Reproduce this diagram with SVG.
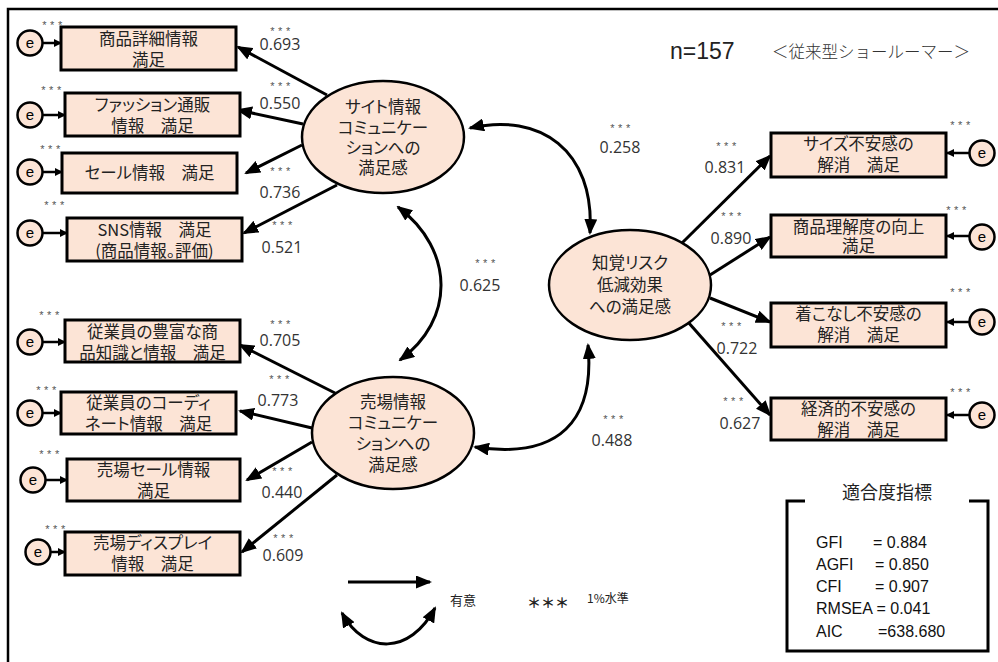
<svg xmlns="http://www.w3.org/2000/svg" width="998" height="662" viewBox="0 0 998 662">
<defs>
<marker id="ah" markerUnits="userSpaceOnUse" viewBox="0 0 16 13" refX="14" refY="6.5" markerWidth="16" markerHeight="13" orient="auto-start-reverse"><path d="M0,0 L16,6.5 L0,13 z" fill="#000"/></marker>
<marker id="sh" markerUnits="userSpaceOnUse" viewBox="0 0 8 8" refX="7" refY="4" markerWidth="8" markerHeight="8" orient="auto"><path d="M0,0 L8,4 L0,8 z" fill="#000"/></marker>
</defs>
<style>
.box{fill:#FCE4D6;stroke:#000;stroke-width:3}
.ell{fill:#FCE4D6;stroke:#000;stroke-width:2.5}
.ec{fill:#FCE4D6;stroke:#000;stroke-width:2.5}
.arr{fill:none;stroke:#000;stroke-width:3;marker-end:url(#ah)}
.dbl{fill:none;stroke:#000;stroke-width:3;marker-start:url(#ah);marker-end:url(#ah)}
.sarr{fill:none;stroke:#000;stroke-width:2.5;marker-end:url(#sh)}
.jp{font-family:"Noto Sans CJK JP","Liberation Sans",sans-serif;font-size:16.5px;fill:#222;text-anchor:middle;font-feature-settings:"palt"}
.ej{font-family:"Noto Sans CJK JP","Liberation Sans",sans-serif;font-size:16.5px;fill:#222;text-anchor:middle;font-feature-settings:"palt"}
.et{font-family:"Liberation Sans",sans-serif;font-size:15px;fill:#000;text-anchor:middle}
.st{font-family:"Liberation Sans",sans-serif;font-size:11px;fill:#555;text-anchor:middle;letter-spacing:3.5px}
.num{font-family:"Open Sans","Liberation Sans",sans-serif;font-size:16px;fill:#333;text-anchor:middle}
.fit{font-family:"Liberation Sans",sans-serif;font-size:16px;fill:#111}
</style>

<path d="M8,662 L8,9 L998,9" fill="none" stroke="#000" stroke-width="2.5"/>

<text x="670" y="59" font-family="Liberation Sans, sans-serif" font-size="23" fill="#222">n=157</text>
<text x="772" y="58" font-family="Noto Sans CJK JP, sans-serif" font-size="16.5" fill="#333" font-weight="300">＜従来型ショールーマー＞</text>

<g id="connectors">
<path class="arr" d="M327,95 L238,47"/>
<path class="arr" d="M303,124 L238,110"/>
<path class="arr" d="M302,145 L246,173"/>
<path class="arr" d="M337,185 L244,233"/>
<path class="arr" d="M335,393 L240,345"/>
<path class="arr" d="M312,428 L240,411"/>
<path class="arr" d="M312,442 L247,480"/>
<path class="arr" d="M337,475 L242,552"/>
<path class="arr" d="M682,243 L770,156"/>
<path class="arr" d="M710,275 L770,237"/>
<path class="arr" d="M710,298 L770,322"/>
<path class="arr" d="M688,322 L770,415"/>
<path class="dbl" d="M470,128 C540,112 595,150 590,233"/>
<path class="dbl" d="M398,207 C455,250 455,320 400,360"/>
<path class="dbl" d="M475,447 C560,460 595,420 588,345"/>
<path class="sarr" d="M43,43 L61,43"/>
<path class="sarr" d="M43,115 L65,115"/>
<path class="sarr" d="M43,172 L62,172"/>
<path class="sarr" d="M43,233 L67,233"/>
<path class="sarr" d="M43,342 L65,342"/>
<path class="sarr" d="M43,413 L61,413"/>
<path class="sarr" d="M46,480 L67,480"/>
<path class="sarr" d="M51,552 L65,552"/>
<path class="sarr" d="M969,153 L947,153"/>
<path class="sarr" d="M969,236 L947,236"/>
<path class="sarr" d="M969,322 L947,322"/>
<path class="sarr" d="M969,415 L947,415"/>
</g>

<g id="n-site">
<ellipse class="ell" cx="383" cy="137" rx="81" ry="56"/>
<text class="ej" x="383" y="113">サイト情報</text>
<text class="ej" x="383" y="134">コミュニケー</text>
<text class="ej" x="383" y="154">ションへの</text>
<text class="ej" x="383" y="174">満足感</text>
</g>
<g id="n-store">
<ellipse class="ell" cx="393" cy="433" rx="81" ry="56"/>
<text class="ej" x="393" y="408">売場情報</text>
<text class="ej" x="393" y="429">コミュニケー</text>
<text class="ej" x="393" y="450">ションへの</text>
<text class="ej" x="393" y="471">満足感</text>
</g>
<g id="n-risk">
<ellipse class="ell" cx="630" cy="285" rx="81" ry="55"/>
<text class="ej" x="630" y="269">知覚リスク</text>
<text class="ej" x="630" y="291">低減効果</text>
<text class="ej" x="630" y="313">への満足感</text>
</g>

<g id="b1"><rect class="box" x="61" y="27" width="175" height="43"/><text class="jp" x="148.5" y="44.5">商品詳細情報</text><text class="jp" x="148.5" y="65.5">満足</text></g>
<g id="b2"><rect class="box" x="65" y="93" width="175" height="43"/><text class="jp" x="152.5" y="110.5">ファッション通販</text><text class="jp" x="152.5" y="131.5">情報　満足</text></g>
<g id="b3"><rect class="box" x="62" y="153" width="175" height="40"/><text class="jp" x="149.5" y="179">セール情報　満足</text></g>
<g id="b4"><rect class="box" x="67" y="218" width="175" height="43"/><text class="jp" x="154.5" y="235.5">SNS情報　満足</text><text class="jp" x="154.5" y="256.5">(商品情報。評価)</text></g>
<g id="b5"><rect class="box" x="65" y="320" width="175" height="42"/><text class="jp" x="152.5" y="338">従業員の豊富な商</text><text class="jp" x="152.5" y="359">品知識と情報　満足</text></g>
<g id="b6"><rect class="box" x="61" y="392" width="175" height="42"/><text class="jp" x="148.5" y="409">従業員のコーディ</text><text class="jp" x="148.5" y="430">ネート情報　満足</text></g>
<g id="b7"><rect class="box" x="67" y="459" width="173" height="42"/><text class="jp" x="153.5" y="476">売場セール情報</text><text class="jp" x="153.5" y="497">満足</text></g>
<g id="b8"><rect class="box" x="65" y="532" width="175" height="43"/><text class="jp" x="152.5" y="549">売場ディスプレイ</text><text class="jp" x="152.5" y="570">情報　満足</text></g>

<g id="r1"><rect class="box" x="771" y="133" width="175" height="44"/><text class="jp" x="858.5" y="150">サイズ不安感の</text><text class="jp" x="858.5" y="171">解消　満足</text></g>
<g id="r2"><rect class="box" x="771" y="215" width="175" height="42"/><text class="jp" x="858.5" y="233">商品理解度の向上</text><text class="jp" x="858.5" y="252">満足</text></g>
<g id="r3"><rect class="box" x="771" y="303" width="175" height="44"/><text class="jp" x="858.5" y="320">着こなし不安感の</text><text class="jp" x="858.5" y="341">解消　満足</text></g>
<g id="r4"><rect class="box" x="771" y="398" width="175" height="42"/><text class="jp" x="858.5" y="415">経済的不安感の</text><text class="jp" x="858.5" y="436">解消　満足</text></g>

<g id="e1"><circle class="ec" cx="30" cy="43" r="12.5"/><text class="et" x="30" y="48">e</text><text class="st" x="54" y="29">***</text></g>
<g id="e2"><circle class="ec" cx="30" cy="115" r="12.5"/><text class="et" x="30" y="120">e</text><text class="st" x="53" y="94">***</text></g>
<g id="e3"><circle class="ec" cx="30" cy="172" r="12.5"/><text class="et" x="30" y="177">e</text><text class="st" x="52" y="153">***</text></g>
<g id="e4"><circle class="ec" cx="30" cy="233" r="12.5"/><text class="et" x="30" y="238">e</text><text class="st" x="56" y="209">***</text></g>
<g id="e5"><circle class="ec" cx="30" cy="342" r="12.5"/><text class="et" x="30" y="347">e</text><text class="st" x="51" y="319">***</text></g>
<g id="e6"><circle class="ec" cx="30" cy="413" r="12.5"/><text class="et" x="30" y="418">e</text><text class="st" x="48" y="394">***</text></g>
<g id="e7"><circle class="ec" cx="33" cy="480" r="12.5"/><text class="et" x="33" y="485">e</text><text class="st" x="51" y="458">***</text></g>
<g id="e8"><circle class="ec" cx="38" cy="552" r="12.5"/><text class="et" x="38" y="557">e</text><text class="st" x="57" y="533">***</text></g>
<g id="e9"><circle class="ec" cx="982" cy="153" r="12.5"/><text class="et" x="982" y="158">e</text><text class="st" x="962" y="129">***</text></g>
<g id="e10"><circle class="ec" cx="982" cy="237" r="12.5"/><text class="et" x="982" y="242">e</text><text class="st" x="958" y="214">***</text></g>
<g id="e11"><circle class="ec" cx="982" cy="322" r="12.5"/><text class="et" x="982" y="327">e</text><text class="st" x="962" y="296">***</text></g>
<g id="e12"><circle class="ec" cx="982" cy="415" r="12.5"/><text class="et" x="982" y="420">e</text><text class="st" x="962" y="396">***</text></g>

<g id="labels">
<text class="st" x="282" y="35">***</text><text class="num" x="280" y="50">0.693</text>
<text class="st" x="282" y="90">***</text><text class="num" x="280" y="109">0.550</text>
<text class="st" x="282" y="175">***</text><text class="num" x="280" y="198">0.736</text>
<text class="st" x="284" y="229">***</text><text class="num" x="282" y="253">0.521</text>
<text class="st" x="282" y="328">***</text><text class="num" x="280" y="346">0.705</text>
<text class="st" x="281" y="383">***</text><text class="num" x="278" y="406">0.773</text>
<text class="st" x="284" y="475">***</text><text class="num" x="282" y="498">0.440</text>
<text class="st" x="285" y="542">***</text><text class="num" x="283" y="561">0.609</text>
<text class="st" x="728" y="150">***</text><text class="num" x="725" y="173">0.831</text>
<text class="st" x="733" y="220">***</text><text class="num" x="731" y="244">0.890</text>
<text class="st" x="733" y="330">***</text><text class="num" x="737" y="354">0.722</text>
<text class="st" x="735" y="405">***</text><text class="num" x="740" y="429">0.627</text>
<text class="st" x="622" y="132">***</text><text class="num" x="620" y="153">0.258</text>
<text class="st" x="487" y="267">***</text><text class="num" x="480" y="291">0.625</text>
<text class="st" x="615" y="423">***</text><text class="num" x="612" y="446">0.488</text>
</g>

<g id="legend">
<path class="arr" d="M348,582 L430,582"/>
<path class="dbl" d="M342,613 C365,655 410,655 435,608"/>
<text x="463" y="605" font-family="Noto Sans CJK JP, sans-serif" font-size="13" fill="#222" text-anchor="middle">有意</text>
<text x="527" y="608" font-family="Noto Sans CJK JP, sans-serif" font-size="14" font-weight="bold" fill="#222">＊＊＊</text>
<text x="587" y="603" font-family="Noto Sans CJK JP, sans-serif" font-size="12" fill="#222">1%水準</text>
</g>

<g id="fit">
<path d="M805,501 L787,501 L787,651 L988,651 L988,501 L969,501" fill="none" stroke="#000" stroke-width="3"/>
<text x="887" y="499" font-family="Noto Sans CJK JP, sans-serif" font-size="18" fill="#222" text-anchor="middle">適合度指標</text>
<text class="fit" x="816" y="548">GFI</text><text class="fit" x="873" y="548">= 0.884</text>
<text class="fit" x="816" y="570">AGFI</text><text class="fit" x="875" y="570">= 0.850</text>
<text class="fit" x="816" y="592">CFI</text><text class="fit" x="875" y="592">= 0.907</text>
<text class="fit" x="816" y="614">RMSEA = 0.041</text>
<text class="fit" x="816" y="637">AIC</text><text class="fit" x="878" y="637">=638.680</text>
</g>
</svg>
